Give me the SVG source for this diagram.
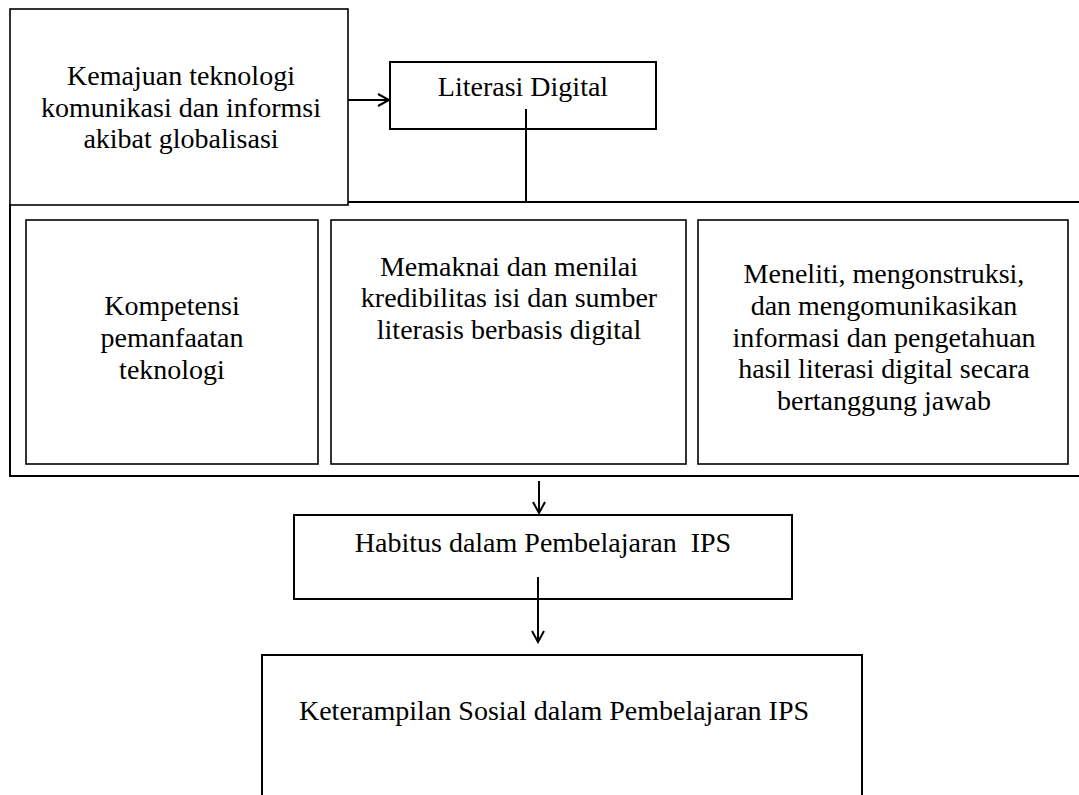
<svg xmlns="http://www.w3.org/2000/svg" width="1079" height="795" viewBox="0 0 1079 795">
<defs>
<style>
.t{font-family:"Liberation Serif","Times New Roman",serif;font-size:28px;fill:#000;text-anchor:middle}
.b{fill:#fff;stroke:#000;stroke-width:2}
.i{fill:#fff;stroke:#000;stroke-width:1.6}
.c{fill:none;stroke:#000;stroke-width:2}
</style>
<marker id="ah" markerWidth="14" markerHeight="14" refX="12" refY="7" orient="auto" markerUnits="userSpaceOnUse">
<path d="M1,1 L12,7 L1,13" fill="none" stroke="#000" stroke-width="2"/>
</marker>
</defs>
<rect width="1079" height="795" fill="#fff"/>
<g id="container">
<path class="c" d="M348,202 H1085 M10,204 V476 H1085"/>
</g>
<g id="n-kemajuan">
<rect class="i" x="10" y="9" width="338" height="196"/>
<text class="t" x="181" y="85">Kemajuan teknologi</text>
<text class="t" x="181" y="117">komunikasi dan informsi</text>
<text class="t" x="181" y="148">akibat globalisasi</text>
</g>
<g id="n-literasi">
<rect class="b" x="390" y="62" width="266" height="67"/>
<text class="t" x="523" y="96">Literasi Digital</text>
</g>
<g id="n-kompetensi">
<rect class="i" x="26" y="220" width="292" height="244"/>
<text class="t" x="172" y="315">Kompetensi</text>
<text class="t" x="172" y="347">pemanfaatan</text>
<text class="t" x="172" y="379">teknologi</text>
</g>
<g id="n-memaknai">
<rect class="i" x="331" y="220" width="355" height="244"/>
<text class="t" x="509" y="276">Memaknai dan menilai</text>
<text class="t" x="509" y="307">kredibilitas isi dan sumber</text>
<text class="t" x="509" y="339">literasis berbasis digital</text>
</g>
<g id="n-meneliti">
<rect class="i" x="698" y="220" width="370" height="244"/>
<text class="t" x="884" y="283">Meneliti, mengonstruksi,</text>
<text class="t" x="884" y="315">dan mengomunikasikan</text>
<text class="t" x="884" y="347">informasi dan pengetahuan</text>
<text class="t" x="884" y="378">hasil literasi digital secara</text>
<text class="t" x="884" y="410">bertanggung jawab</text>
</g>
<g id="n-habitus">
<rect class="b" x="294" y="515" width="498" height="84"/>
<text class="t" x="543" y="552" xml:space="preserve">Habitus dalam Pembelajaran  IPS</text>
</g>
<g id="n-keterampilan">
<rect class="b" x="262" y="655" width="600" height="160"/>
<text class="t" x="554" y="720">Keterampilan Sosial dalam Pembelajaran IPS</text>
</g>
<g id="connectors">
<line class="c" x1="348" y1="100" x2="389" y2="100" marker-end="url(#ah)"/>
<line class="c" x1="526" y1="109" x2="526" y2="202"/>
<line class="c" x1="539" y1="481" x2="539" y2="513" marker-end="url(#ah)"/>
<line class="c" x1="538" y1="577" x2="538" y2="642" marker-end="url(#ah)"/>
</g>
</svg>
